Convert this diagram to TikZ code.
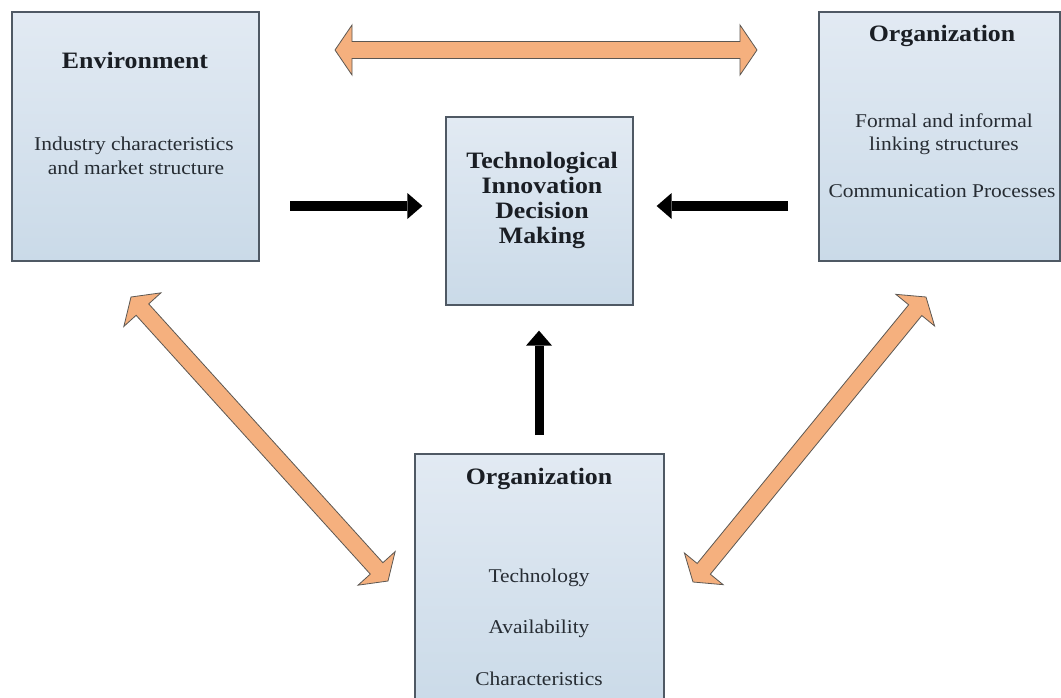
\documentclass[tikz,border=0pt]{standalone}
\usepackage{fontspec}
\setmainfont{Liberation Serif}[FakeStretch=1.1]
\usetikzlibrary{calc,arrows.meta}
\definecolor{boxtop}{HTML}{E2EAF3}
\definecolor{boxbot}{HTML}{CADAE8}
\definecolor{boxline}{HTML}{4F5964}
\definecolor{orfill}{HTML}{F5B07E}
\definecolor{orline}{HTML}{5C5752}
\definecolor{txt}{HTML}{1A1E24}
\definecolor{bodytxt}{HTML}{262C33}
\newcommand{\arrHL}{17pt}
\newcommand{\arrHH}{25pt}
\newcommand{\arrHS}{8.5pt}
\newcommand{\orangedouble}[2]{%
  \path[orarr] (#1)
    -- ($(#1)!\arrHL!(#2)!\arrHH!90:(#2)$)
    -- ($(#1)!\arrHL!(#2)!\arrHS!90:(#2)$)
    -- ($(#2)!\arrHL!(#1)!\arrHS!-90:(#1)$)
    -- ($(#2)!\arrHL!(#1)!\arrHH!-90:(#1)$)
    -- (#2)
    -- ($(#2)!\arrHL!(#1)!\arrHH!90:(#1)$)
    -- ($(#2)!\arrHL!(#1)!\arrHS!90:(#1)$)
    -- ($(#1)!\arrHL!(#2)!\arrHS!-90:(#2)$)
    -- ($(#1)!\arrHL!(#2)!\arrHH!-90:(#2)$)
    -- cycle;}
\tikzset{
  box/.style={draw=boxline, line width=1.3pt, top color=boxtop, bottom color=boxbot, inner sep=0pt, shape=rectangle},
  ttl/.style={anchor=base, font=\fontsize{23.5}{27}\selectfont\bfseries, text=txt, inner sep=0pt},
  bdy/.style={anchor=base, font=\fontsize{19.5}{23}\selectfont, text=bodytxt, inner sep=0pt},
  blk/.style={line width=10pt, -{Triangle[length=15pt,width=26pt,line width=0pt]}},
  orarr/.style={fill=orfill, draw=orline, line width=0.8pt, line join=miter}
}
\begin{document}
\begin{tikzpicture}[x=1pt,y=-1pt]
\clip (0,0) rectangle (1061,697);
\fill[white] (0,0) rectangle (1061,697);
% boxes
\node[box, minimum width=247pt, minimum height=249pt] (env) at (135.5,136.5) {};
\node[box, minimum width=241pt, minimum height=249pt] (orgr) at (939.5,136.5) {};
\node[box, minimum width=187pt, minimum height=188pt] (tid) at (539.5,211) {};
\node[box, minimum width=249pt, minimum height=256pt] (orgb) at (539.5,582) {};
% texts
\node[ttl] (envt) at (135,68) {Environment};
\node[bdy] (envb1) at (134,150) {Industry characteristics};
\node[bdy] (envb2) at (136,174) {and market structure};
\node[ttl] (orgrt) at (942,41) {Organization};
\node[bdy] (orgrb1) at (944,127) {Formal and informal};
\node[bdy] (orgrb2) at (944,150) {linking structures};
\node[bdy] (orgrb3) at (942,197) {Communication Processes};
\node[ttl] (tid1) at (542,168) {Technological};
\node[ttl] (tid2) at (542,193) {Innovation};
\node[ttl] (tid3) at (542,218) {Decision};
\node[ttl] (tid4) at (542,243) {Making};
\node[ttl] (orgbt) at (539,484) {Organization};
\node[bdy] (orgb1) at (539,582) {Technology};
\node[bdy] (orgb2) at (539,633) {Availability};
\node[bdy] (orgb3) at (539,685) {Characteristics};
% black arrows
\coordinate (la) at (290,206);
\coordinate (ra) at (788,206);
\coordinate (va) at (539,435);
\draw[blk, shorten >=23pt] (la) -- (la -| tid.west);
\draw[blk, shorten >=23pt] (ra) -- (ra -| tid.east);
\draw[blk, line width=9pt, shorten >=25pt] (va) -- (va |- tid.south);
% orange double arrows
\coordinate (topL) at (335,50);
\coordinate (topR) at (757,50);
\coordinate (dlA) at (131,297);
\coordinate (dlB) at (388,581);
\coordinate (drA) at (926,297);
\coordinate (drB) at (693,582);
\orangedouble{topL}{topR}
\orangedouble{dlA}{dlB}
\orangedouble{drA}{drB}
\end{tikzpicture}
\end{document}
